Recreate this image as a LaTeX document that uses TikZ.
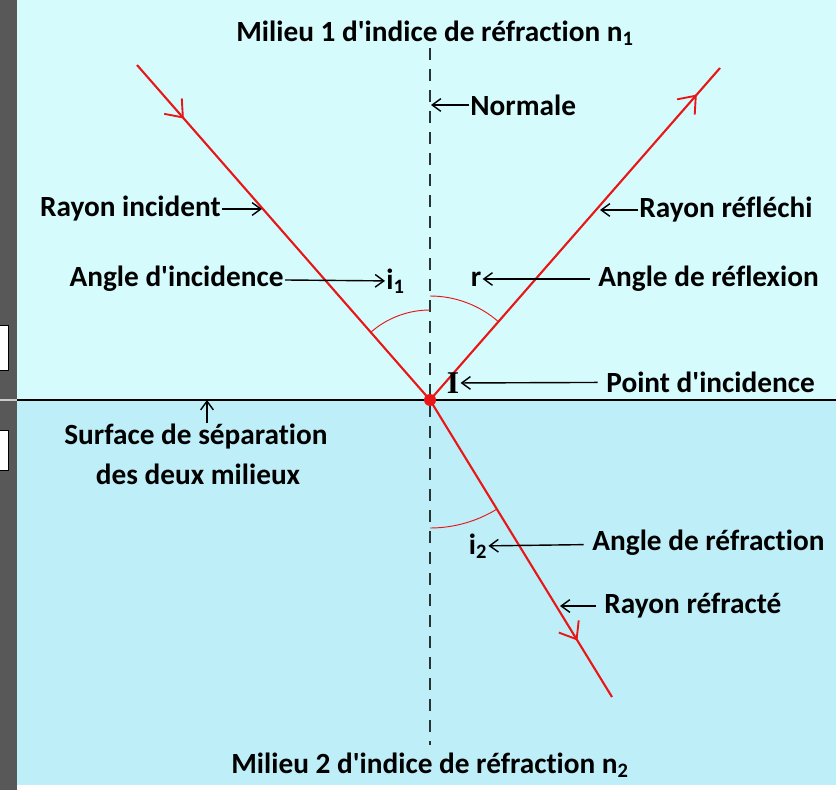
\documentclass[tikz,border=0pt]{standalone}
\usepackage{fontspec}
\setmainfont{Carlito}[Ligatures={TeXOff,NoCommon}]
\newfontfamily\serifI{Liberation Serif}
\usetikzlibrary{arrows.meta,positioning,decorations.markings}
\definecolor{mediumone}{RGB}{213,251,253}
\definecolor{mediumtwo}{RGB}{190,238,248}
\definecolor{rayred}{RGB}{232,22,22}
\definecolor{stripgray}{RGB}{88,88,88}
\definecolor{normalgray}{RGB}{40,52,52}
\tikzset{
  lbl/.style={font=\fontsize{25}{29}\selectfont\bfseries, inner sep=1pt},
  ptr/.style={-{Straight Barb[length=2.6mm,width=3.8mm]}, line width=1.2pt, black},
  gapptr/.style={ptr, shorten <=2.2mm},
  ray/.style={rayred, line width=1.8pt},
  midarrow/.style={postaction={decorate}, decoration={markings,
    mark=at position #1 with {\arrow{Straight Barb[length=4.5mm,width=7mm,line width=1.6pt]}}}},
  anglearc/.style={rayred, line width=0.8pt},
  normalline/.style={normalgray, line width=1.6pt, dash pattern=on 3.6mm off 2.7mm},
}

\begin{document}
\begin{tikzpicture}[x=0.3mm,y=0.3mm]
\useasboundingbox (0,0) rectangle (836,790);
% background: screen strip and the two media
\fill[white] (0,0) rectangle (836,790);
\fill[stripgray] (0,0) rectangle (17,790);
\fill[mediumone] (17,390) rectangle (836,790);
\fill[mediumtwo] (17,5) rectangle (836,390);
\filldraw[fill=white, draw=black, line width=0.8pt] (-2,420) rectangle (8,465);
\filldraw[fill=white, draw=black, line width=0.8pt] (-2,320) rectangle (8,360);
\draw[gray!40, line width=1pt] (0,390) -- (17,390);

\coordinate (I) at (430,390);
\coordinate (src) at (137,725);
\coordinate (refl) at (720,722);
\coordinate (refr) at (612,93);
\coordinate (surfL) at (17,390);
\coordinate (surfR) at (836,390);
\coordinate (ntop) at (430,742);
\coordinate (nbot) at (430,45);

\draw[line width=1.6pt] (surfL) -- (surfR);
\draw[normalline] (ntop) -- (nbot);

% rays
\draw[ray, midarrow=0.16] (src) -- (I);
\draw[ray, midarrow=0.92] (I) -- (refl);
\draw[ray, midarrow=0.81] (I) -- (refr);

% angles
\draw[anglearc] (I) ++(90:90) arc[start angle=90, end angle=131.2, radius=90];
\draw[anglearc] (I) ++(48.9:104) arc[start angle=48.9, end angle=90, radius=104];
\draw[anglearc] (I) ++(-90:128) arc[start angle=-90, end angle=-58.5, radius=128];
\fill[rayred] (I) circle (6);

% labels
\node[lbl] (milone) at (435,757) {Milieu 1 d'indice de réfraction n\textsubscript{1}};
\node[lbl] (miltwo) at (430,25) {Milieu 2 d'indice de réfraction n\textsubscript{2}};

\coordinate (pnorm) at (431,685);
\node[lbl, anchor=west] (normale) at (469,685) {Normale};
\draw[ptr] (normale) -- (pnorm);

\coordinate (pinc) at (262,581);
\node[lbl, anchor=east] (rinc) at (222,581) {Rayon incident};
\draw[ptr] (rinc) -- (pinc);

\coordinate (prefl) at (600,580);
\node[lbl, anchor=west] (rrefl) at (638,580) {Rayon réfléchi};
\draw[ptr] (rrefl) -- (prefl);

\node[lbl, anchor=east] (aincid) at (285,511) {Angle d'incidence};
\node[lbl, anchor=west] (ione) at (385,509) {i\textsubscript{1}};
\draw[ptr] (aincid) -- (ione);

\node[lbl] (rlab) at (476,511) {r};
\node[lbl, anchor=west] (arefl) at (597,511) {Angle de réflexion};
\draw[gapptr] (arefl) -- (rlab);

\node[font=\serifI\fontsize{27}{30}\selectfont\bfseries, inner sep=1pt] (ilab) at (453,407) {I};
\node[lbl, anchor=west] (pointinc) at (605,408) {Point d'incidence};
\draw[gapptr] (pointinc) -- (ilab);

\node[lbl] (surf) at (196,353) {Surface de séparation};
\node[lbl] (surftwo) at (198,316) {des deux milieux};
\coordinate (psurf) at (207,390);
\draw[ptr] (psurf |- 0,367) -- (psurf);

\node[lbl] (itwo) at (478,244) {i\textsubscript{2}};
\node[lbl, anchor=west] (arefr) at (591,247) {Angle de réfraction};
\draw[gapptr] (arefr) -- (itwo);

\coordinate (prefr) at (560,184);
\node[lbl, anchor=west] (rrefr) at (603,184) {Rayon réfracté};
\draw[gapptr] (rrefr) -- (prefr);
\end{tikzpicture}
\end{document}
